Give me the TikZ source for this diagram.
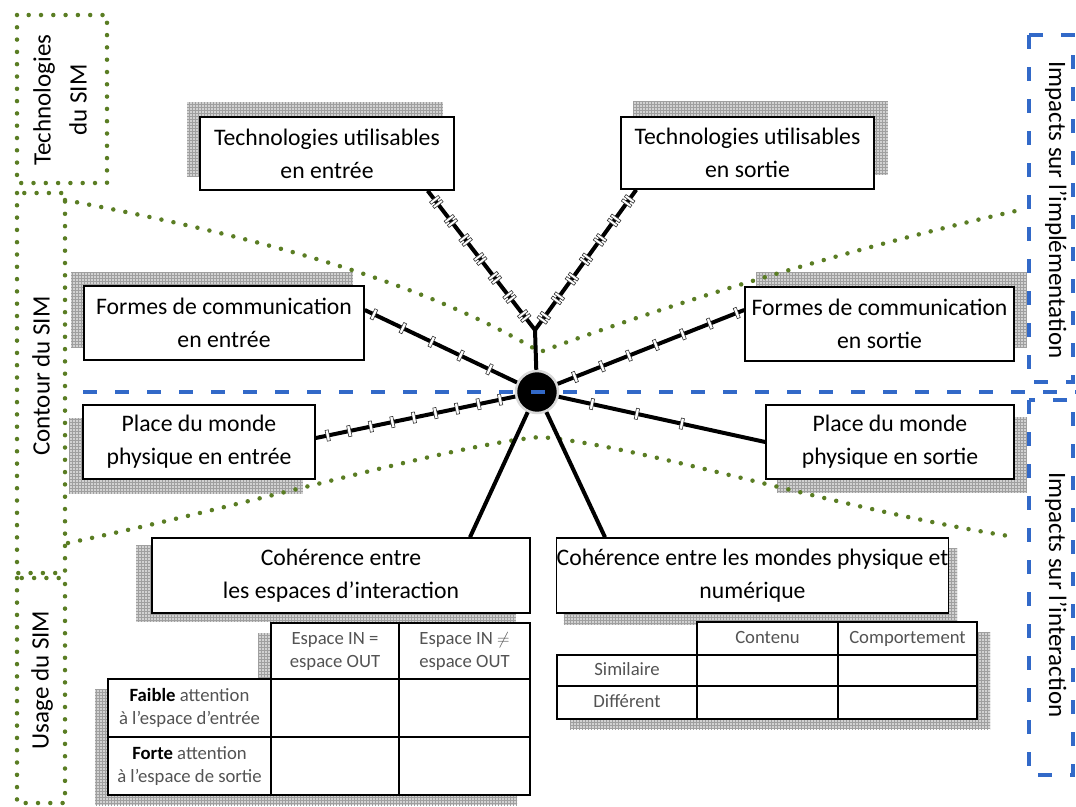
\documentclass[tikz,border=0pt]{standalone}
\usepackage{fontspec}
\setmainfont{Carlito}
\usetikzlibrary{calc,decorations.markings,patterns}
\pgfdeclarelayer{bg}
\pgfsetlayers{bg,main}
\definecolor{dotgreen}{RGB}{90,125,35}
\definecolor{dashblue}{RGB}{50,105,200}
\newcommand\spoketick{\filldraw[fill=white,draw=gray!40!black,line width=0.6pt] (-1.6pt,-5.5pt) rectangle (1.6pt,5.5pt);}
\newcommand\spokedtick{\filldraw[fill=white,draw=gray!40!black,line width=0.6pt] (-4pt,-5.5pt) rectangle (-1.2pt,5.5pt) (1.2pt,-5.5pt) rectangle (4pt,5.5pt);}
\tikzset{
  box/.style={draw=black, line width=1.6pt, fill=white, align=center, inner sep=0pt, font=\fontsize{23.7}{33}\selectfont},
  shad/.style={fill=gray!35, postaction={pattern=grid, pattern color=gray!75}},
  gdot/.style={draw=dotgreen, line width=4.5pt, line cap=round, dash pattern=on 0pt off 12.3pt},
  bdash/.style={draw=dashblue, line width=3.5pt, dash pattern=on 14pt off 18pt},
  spoke/.style={draw=black, line width=4pt},
  ticked/.style={postaction={decorate, decoration={markings, mark=between positions #1 with {\spoketick}}}},
  dticked/.style={postaction={decorate, decoration={markings, mark=between positions #1 with {\spokedtick}}}},
  tabline/.style={draw=black, line width=1.6pt},
  tabtext/.style={font=\fontsize{18.7}{23}\selectfont, text=gray!65!black, align=center, inner sep=0pt},
  side/.style={font=\fontsize{25}{36}\selectfont, align=center, inner sep=0pt},
}
\begin{document}
\begin{tikzpicture}[x=1pt,y=-1pt]
\useasboundingbox (0,0) rectangle (1076,806);
\begin{pgfonlayer}{bg}
\fill[white] (0,0) rectangle (1076,806);
\end{pgfonlayer}

% dotted green frames on the left
\draw[gdot] (17,15) rectangle (107,183);
\draw[gdot] (17,193) rectangle (65,573);
\draw[gdot] (17,578) rectangle (65,803);
\node[side, rotate=90] (tsim) at (60,100) {Technologies\\du SIM};
\node[side, rotate=90] (csim) at (41,376) {Contour du SIM};
\node[side, rotate=90] (usim) at (42,680) {Usage du SIM};

% dashed blue frames on the right
\draw[bdash] (1029,35) rectangle (1073,382);
\draw[bdash] (1029,400) rectangle (1073,775);
\node[side, rotate=-90] (iimp) at (1056,210) {Impacts sur l'implémentation};
\node[side, rotate=-90] (iint) at (1056,595) {Impacts sur l'interaction};

% green dotted V lines
\coordinate (gl1) at (65,200);
\coordinate (gm1) at (540,352);
\coordinate (gr1) at (1020,210);
\coordinate (gl2) at (68,543);
\coordinate (gm2) at (540,437);
\coordinate (gr2) at (1015,537);
\draw[gdot] (gl1) .. controls (250,235) and (420,280) .. (gm1) .. controls (640,315) and (820,255) .. (gr1);
\draw[gdot] (gl2) .. controls (250,505) and (450,445) .. (gm2) .. controls (640,445) and (840,510) .. (gr2);

% boxes
\node[box, minimum width=254pt, minimum height=73pt] (te) at (327,153.5) {Technologies utilisables\\en entrée};
\node[box, minimum width=253pt, minimum height=72pt] (ts) at (747.5,153) {Technologies utilisables\\en sortie};
\node[box, minimum width=280pt, minimum height=74pt] (fe) at (224,323) {Formes de communication\\en entrée};
\node[box, minimum width=269pt, minimum height=74pt] (fs) at (879.5,324) {Formes de communication\\en sortie};
\node[box, minimum width=232pt, minimum height=74pt] (pe) at (199,442) {Place du monde\\physique en entrée};
\node[box, minimum width=248pt, minimum height=74pt] (ps) at (890,442) {Place du monde\\physique en sortie};
\node[box, minimum width=378pt, minimum height=75pt] (ce) at (341,575.5) {Cohérence entre\\les espaces d'interaction};
\node[box, minimum width=391pt, minimum height=75pt] (cm) at (752.5,575.5) {Cohérence entre les mondes physique et\\numérique};

% hub
\node[circle, fill=black, draw=gray!30, line width=2.5pt, minimum size=42pt, inner sep=0pt] (hub) at (537,392) {};

% spokes
\coordinate (J) at (535,330);
\draw[spoke, dticked=0.08 and 0.95 step 24pt] ($(te.south west)!0.894!(te.south east)$) -- (J);
\draw[spoke, dticked=0.08 and 0.95 step 24pt] ($(ts.south west)!0.063!(ts.south east)$) -- (J);
\draw[spoke] (J) -- (hub);
\draw[spoke, ticked=0.06 and 0.95 step 32pt] ([yshift=13pt]fe.east) -- (hub);
\draw[spoke, ticked=0.04 and 0.95 step 29pt] ([yshift=14pt]fs.west) -- (hub);
\draw[spoke, ticked=0.06 and 0.97 step 22pt] ([yshift=4pt]pe.east) -- (hub);
\draw[spoke, ticked=34pt and 130pt step 46pt] (hub) -- (ps.west);
\draw[spoke] (hub) -- ([xshift=129pt]ce.north);
\draw[spoke] (hub) -- ([xshift=-147.5pt]cm.north);

% horizontal blue separator
\coordinate (hl) at (83,392);
\coordinate (hr) at (1076,392);
\draw[bdash] (hl) -- (hr);

% left table
\filldraw[tabline, fill=white] (271,623) rectangle (530,795);
\filldraw[tabline, fill=white] (108,679) rectangle (271,795);
\draw[tabline] (271,679) -- (530,679);
\draw[tabline] (399,623) -- (399,795);
\draw[tabline] (108,737) -- (530,737);
\node[tabtext] (h1) at (335,651) {Espace IN =\\espace OUT};
\node[tabtext] (h2) at (464.5,651) {Espace IN $\neq$\\espace OUT};
\node[tabtext] (r1) at (189.5,708) {\textcolor{black}{\bfseries Faible} attention\\à l'espace d'entrée};
\node[tabtext] (r2) at (189.5,766) {\textcolor{black}{\bfseries Forte} attention\\à l'espace de sortie};

% right table
\filldraw[tabline, fill=white] (697,622) rectangle (977,719);
\filldraw[tabline, fill=white] (557,655) rectangle (697,719);
\draw[tabline] (697,655) -- (977,655);
\draw[tabline] (838,622) -- (838,719);
\draw[tabline] (557,686) -- (977,686);
\node[tabtext] (c1) at (767.5,638.5) {\strut Contenu};
\node[tabtext] (c2) at (907.5,638.5) {\strut Comportement};
\node[tabtext] (s1) at (627,670.5) {\strut Similaire};
\node[tabtext] (s2) at (627,702.5) {\strut Différent};

% shadows
\begin{pgfonlayer}{bg}
\foreach \nm/\dx/\dy in {te/-12/-14, ts/13/-15, fe/-12/-13, fs/12/-14, pe/-13/14, ps/12/13, ce/-15/8, cm/8/11}
  \fill[shad] ($(\nm.south west)+(\dx,\dy)$) rectangle ($(\nm.north east)+(\dx,\dy)$);
\fill[shad] (258,633) rectangle (517,805);
\fill[shad] (95,689) rectangle (258,805);
\fill[shad] (710,632) rectangle (990,729);
\fill[shad] (570,665) rectangle (710,729);
\end{pgfonlayer}
\end{tikzpicture}
\end{document}
